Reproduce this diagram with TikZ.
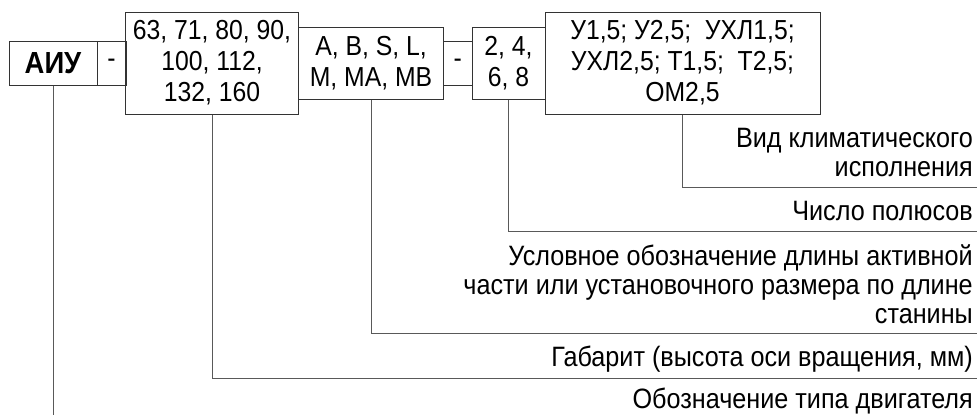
\documentclass[tikz,border=0pt]{standalone}
\usepackage{fontspec}
\setmainfont{Liberation Sans}[FakeStretch=0.9]
\begin{document}
\begin{tikzpicture}[x=1pt,y=-1pt,
  box/.style={draw=black!80, line width=1pt, inner sep=0pt, align=center,
              font=\fontsize{27.5}{31}\selectfont},
  conn/.style={draw=black!65, line width=1pt},
  lbl/.style={anchor=base east, inner sep=0pt, align=right,
              font=\fontsize{28}{29}\selectfont}]
\useasboundingbox (0,0) rectangle (978,415);
% boxes
\node[box, minimum width=88pt, minimum height=44pt, font=\fontsize{30.5}{31}\selectfont\bfseries] (aiu) at (53,63) {АИУ};
\node[box, minimum width=29pt, minimum height=44pt] (d1) at (111.5,63) {-};
\node[box, minimum width=173pt, minimum height=102pt] (gab) at (212,63) {63, 71, 80, 90,\\100, 112,\\132, 160};
\node[box, minimum width=145pt, minimum height=72pt] (len) at (371,63) {A, B, S, L,\\M, MA, MB};
\node[box, minimum width=28.5pt, minimum height=44pt] (d2) at (457.75,63) {-};
\node[box, minimum width=73pt, minimum height=72pt] (pol) at (508.5,63) {2, 4,\\6, 8};
\node[box, minimum width=275pt, minimum height=102pt] (kli) at (682.5,63) {У1,5; У2,5;\ \ УХЛ1,5;\\УХЛ2,5; Т1,5;\ \ Т2,5;\\ОМ2,5};
% line ends
\coordinate (e1) at (977,187);
\coordinate (e2) at (977,231);
\coordinate (e3) at (977,333);
\coordinate (e4) at (977,378);
\coordinate (e5) at (53,415);
% connectors
\draw[conn] (kli.south) |- (e1);
\draw[conn] (pol.south) |- (e2);
\draw[conn] (len.south) |- (e3);
\draw[conn] (gab.south) |- (e4);
\draw[conn] (aiu.south) -- (e5);
% labels (base anchor = last line)
\node[lbl] (t1) at (973,176) {Вид климатического\\исполнения};
\node[lbl] (t2) at (973,220) {Число полюсов};
\node[lbl] (t3) at (973,323) {Условное обозначение длины активной\\части или установочного размера по длине\\станины};
\node[lbl] (t4) at (973,366) {Габарит (высота оси вращения, мм)};
\node[lbl] (t5) at (973,408) {Обозначение типа двигателя};
\end{tikzpicture}
\end{document}
